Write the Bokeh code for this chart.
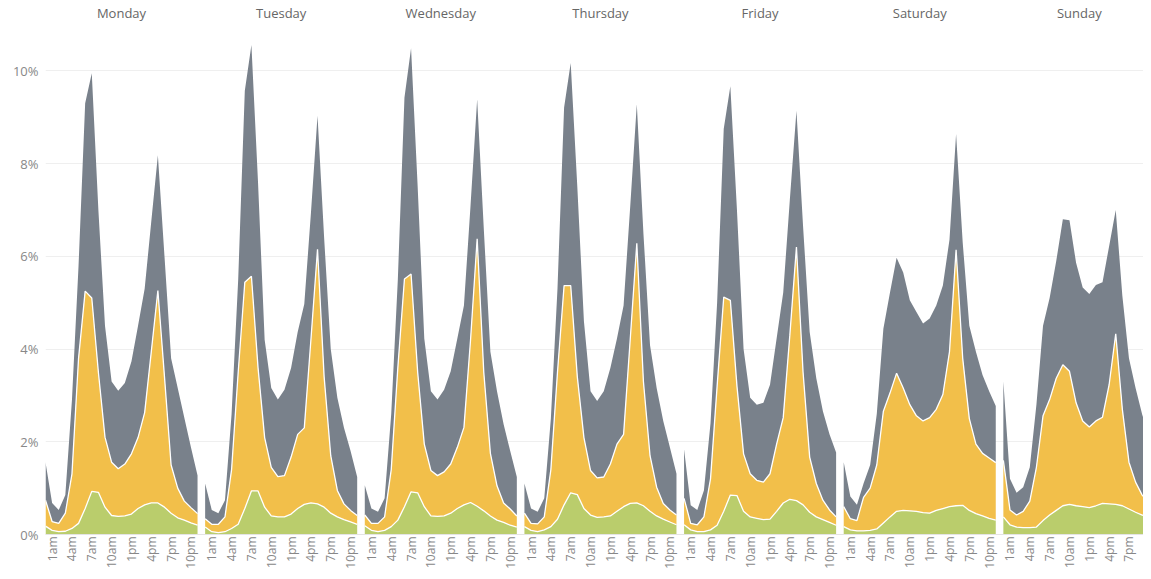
import math
from bokeh.plotting import figure
from bokeh.models import ColumnDataSource, FixedTicker, Range1d, LinearAxis, PrintfTickFormatter
from bokeh.transform import stack
from bokeh.embed import file_html
from bokeh.resources import INLINE

# ---------------- data (percent of trips, per hour 12am..11pm) ----------------
days = ["Monday", "Tuesday", "Wednesday", "Thursday", "Friday", "Saturday", "Sunday"]
hours = list(range(24))
tick_hours = [1, 4, 7, 10, 13, 16, 19, 22]
tick_labels = ["1am", "4am", "7am", "10am", "1pm", "4pm", "7pm", "10pm"]
y_ticks = [0, 2, 4, 6, 8, 10]

monday_green = [0.18, 0.09, 0.06, 0.07, 0.13, 0.24, 0.56, 0.93, 0.91, 0.59, 0.41, 0.39, 0.40, 0.44, 0.56, 0.64, 0.68, 0.68, 0.59, 0.46, 0.36, 0.31, 0.25, 0.20]
monday_yellow = [0.56, 0.19, 0.18, 0.39, 1.17, 3.56, 4.69, 4.17, 2.59, 1.51, 1.15, 1.03, 1.12, 1.30, 1.53, 1.99, 3.26, 4.58, 2.81, 1.04, 0.64, 0.41, 0.33, 0.25]
monday_gray = [0.82, 0.40, 0.29, 0.39, 1.60, 2.00, 4.05, 4.85, 3.50, 2.40, 1.74, 1.68, 1.75, 1.99, 2.41, 2.67, 2.81, 2.92, 2.60, 2.30, 2.16, 1.80, 1.30, 0.82]

tuesday_green = [0.16, 0.06, 0.04, 0.06, 0.13, 0.22, 0.56, 0.94, 0.94, 0.59, 0.40, 0.38, 0.38, 0.44, 0.56, 0.65, 0.68, 0.66, 0.59, 0.46, 0.38, 0.32, 0.27, 0.22]
tuesday_yellow = [0.18, 0.16, 0.18, 0.32, 1.27, 3.28, 4.88, 4.63, 2.66, 1.50, 1.05, 0.87, 0.89, 1.23, 1.60, 1.65, 3.52, 5.49, 2.81, 1.24, 0.57, 0.34, 0.25, 0.19]
tuesday_gray = [0.76, 0.31, 0.24, 0.36, 1.20, 2.00, 4.13, 4.99, 4.00, 2.11, 1.71, 1.66, 1.85, 1.92, 2.21, 2.67, 2.73, 2.88, 3.00, 2.30, 2.00, 1.64, 1.28, 0.83]

wednesday_green = [0.19, 0.09, 0.06, 0.09, 0.17, 0.31, 0.60, 0.92, 0.90, 0.60, 0.40, 0.39, 0.40, 0.46, 0.56, 0.64, 0.69, 0.61, 0.51, 0.40, 0.31, 0.26, 0.20, 0.16]
wednesday_yellow = [0.23, 0.15, 0.18, 0.29, 1.23, 3.29, 4.91, 4.70, 2.60, 1.35, 0.98, 0.88, 0.95, 1.06, 1.32, 1.67, 3.51, 5.77, 2.99, 1.35, 0.74, 0.42, 0.35, 0.24]
wednesday_gray = [0.64, 0.32, 0.25, 0.40, 1.20, 1.90, 3.91, 4.87, 4.00, 2.28, 1.71, 1.64, 1.77, 2.00, 2.35, 2.63, 2.90, 3.01, 3.10, 2.19, 2.04, 1.70, 1.25, 0.84]

thursday_green = [0.17, 0.09, 0.06, 0.10, 0.17, 0.33, 0.64, 0.90, 0.86, 0.56, 0.42, 0.37, 0.38, 0.40, 0.50, 0.60, 0.67, 0.68, 0.62, 0.50, 0.40, 0.33, 0.27, 0.21]
thursday_yellow = [0.29, 0.15, 0.17, 0.28, 1.23, 3.17, 4.73, 4.47, 2.54, 1.53, 0.96, 0.85, 0.86, 1.12, 1.45, 1.56, 3.53, 5.60, 2.68, 1.20, 0.62, 0.34, 0.26, 0.21]
thursday_gray = [0.64, 0.32, 0.26, 0.40, 1.10, 1.80, 3.84, 4.80, 4.10, 2.51, 1.71, 1.66, 1.85, 2.07, 2.28, 2.78, 2.87, 3.00, 3.20, 2.38, 2.14, 1.78, 1.35, 0.89]

friday_green = [0.21, 0.10, 0.06, 0.06, 0.10, 0.20, 0.50, 0.85, 0.84, 0.50, 0.38, 0.35, 0.32, 0.33, 0.50, 0.68, 0.76, 0.73, 0.64, 0.48, 0.38, 0.32, 0.26, 0.20]
friday_yellow = [0.57, 0.14, 0.15, 0.32, 1.10, 3.00, 4.62, 4.20, 2.36, 1.24, 0.93, 0.82, 0.81, 0.98, 1.45, 1.84, 3.54, 5.47, 2.86, 1.19, 0.72, 0.42, 0.27, 0.18]
friday_gray = [1.06, 0.39, 0.32, 0.57, 1.20, 1.80, 3.63, 4.62, 3.80, 2.26, 1.64, 1.63, 1.71, 1.92, 2.28, 2.70, 2.92, 2.94, 3.15, 2.70, 2.27, 1.92, 1.63, 1.39]

saturday_green = [0.17, 0.10, 0.08, 0.08, 0.09, 0.12, 0.25, 0.38, 0.50, 0.52, 0.51, 0.50, 0.47, 0.46, 0.52, 0.56, 0.60, 0.62, 0.63, 0.52, 0.45, 0.40, 0.35, 0.31]
saturday_yellow = [0.43, 0.24, 0.22, 0.72, 0.91, 1.38, 2.41, 2.67, 2.98, 2.64, 2.29, 2.06, 1.98, 2.06, 2.18, 2.46, 3.34, 5.52, 3.17, 1.98, 1.50, 1.35, 1.30, 1.24]
saturday_gray = [0.96, 0.48, 0.34, 0.30, 0.50, 1.10, 1.78, 2.17, 2.49, 2.49, 2.25, 2.24, 2.10, 2.14, 2.24, 2.35, 2.42, 2.50, 2.50, 2.00, 1.99, 1.69, 1.44, 1.22]

sunday_green = [0.38, 0.21, 0.16, 0.15, 0.15, 0.16, 0.30, 0.42, 0.52, 0.62, 0.65, 0.62, 0.60, 0.58, 0.62, 0.67, 0.66, 0.65, 0.62, 0.55, 0.48, 0.42, 0.38, 0.35]
sunday_yellow = [1.22, 0.32, 0.26, 0.35, 0.57, 1.29, 2.26, 2.49, 2.85, 3.04, 2.87, 2.22, 1.85, 1.74, 1.83, 1.86, 2.57, 3.68, 2.08, 1.01, 0.65, 0.43, 0.32, 0.25]
sunday_gray = [1.70, 0.67, 0.48, 0.52, 0.73, 1.35, 1.94, 2.19, 2.53, 3.14, 3.26, 3.02, 2.88, 2.87, 2.93, 2.91, 2.99, 2.67, 2.45, 2.24, 2.03, 1.74, 1.46, 1.20]

series = {
    "Monday": (monday_green, monday_yellow, monday_gray),
    "Tuesday": (tuesday_green, tuesday_yellow, tuesday_gray),
    "Wednesday": (wednesday_green, wednesday_yellow, wednesday_gray),
    "Thursday": (thursday_green, thursday_yellow, thursday_gray),
    "Friday": (friday_green, friday_yellow, friday_gray),
    "Saturday": (saturday_green, saturday_yellow, saturday_gray),
    "Sunday": (sunday_green, sunday_yellow, sunday_gray),
}

# ---------------- styling ----------------
GREEN_C = "#bacd6c"
YELLOW_C = "#f2bf4a"
GRAY_C = "#79818b"
FONT = "Open Sans"
STEP = 24.15  # panel step in hour units (23 hours + gap)

p = figure(width=1143, height=571,
           x_range=Range1d(0, 166.1), y_range=Range1d(0, 10.72),
           output_backend="svg", toolbar_location=None,
           min_border_left=45, min_border_right=0,
           min_border_top=37, min_border_bottom=34)
p.outline_line_color = None
p.background_fill_color = "white"
p.border_fill_color = "white"

for d, day in enumerate(days):
    g, yv, gr = series[day]
    src = ColumnDataSource(dict(x=[round(d * STEP + h, 3) for h in hours],
                                green=g, yellow=yv, gray=gr))
    p.varea_stack(["green", "yellow", "gray"], x="x",
                  color=[GREEN_C, YELLOW_C, GRAY_C], source=src)
    p.line(x="x", y=stack("green"), source=src, line_color="white", line_width=1.3)
    p.line(x="x", y=stack("green", "yellow"), source=src, line_color="white", line_width=1.3)

# grid
p.xgrid.visible = False
p.ygrid.ticker = FixedTicker(ticks=y_ticks)
p.ygrid.grid_line_color = "#efefef"
p.ygrid.grid_line_width = 1

# y axis
p.yaxis.ticker = FixedTicker(ticks=y_ticks)
p.yaxis.formatter = PrintfTickFormatter(format="%d%%")
p.yaxis.axis_line_color = None
p.yaxis.major_tick_line_color = None
p.yaxis.minor_tick_line_color = None
p.yaxis.major_tick_out = 0
p.yaxis.major_label_standoff = 7
p.yaxis.major_label_text_font = FONT
p.yaxis.major_label_text_font_size = "13px"
p.yaxis.major_label_text_color = "#888888"

# x axis (hour ticks per panel)
xt = []
overrides = {}
for d in range(len(days)):
    for h, lab in zip(tick_hours, tick_labels):
        t = round(d * STEP + h, 3)
        xt.append(t)
        overrides[t] = lab
p.xaxis.ticker = FixedTicker(ticks=xt)
p.xaxis.major_label_overrides = overrides
p.xaxis.major_label_orientation = math.pi / 2
p.xaxis.axis_line_color = "#e4e4e4"
p.xaxis.major_tick_line_color = None
p.xaxis.minor_tick_line_color = None
p.xaxis.major_tick_out = 0
p.xaxis.major_label_standoff = 2
p.xaxis.major_label_text_font = FONT
p.xaxis.major_label_text_font_size = "12px"
p.xaxis.major_label_text_color = "#888888"

# day headers as an axis above
centers = [round(d * STEP + 11.5, 3) for d in range(len(days))]
top = LinearAxis(ticker=FixedTicker(ticks=centers),
                 major_label_overrides={c: n for c, n in zip(centers, days)})
top.axis_line_color = None
top.major_tick_line_color = None
top.minor_tick_line_color = None
top.major_tick_out = 0
top.major_label_standoff = 16
top.major_label_text_font = FONT
top.major_label_text_font_size = "13px"
top.major_label_text_color = "#666666"
p.add_layout(top, "above")

open("out.html", "w").write(file_html(p, INLINE))
